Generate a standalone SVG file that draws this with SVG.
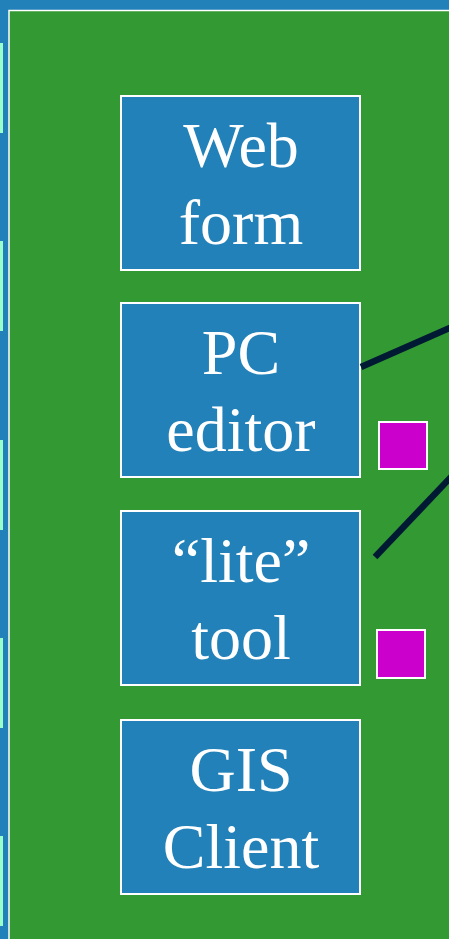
<svg xmlns="http://www.w3.org/2000/svg" width="449" height="939" viewBox="0 0 449 939">
<style>
.tab{fill:#99ffcc}
.box{fill:#2181b8;stroke:#ffffff;stroke-width:2}
.lbl{font-family:"Liberation Serif","Times New Roman",serif;font-size:64px;fill:#ffffff;text-anchor:middle}
.sq{fill:#cc00cc;stroke:#ffffff;stroke-width:2}
.conn{stroke:#001a33;stroke-width:6.5;fill:none}
</style>
<rect x="0" y="0" width="449" height="939" fill="#2181b8"/>
<g id="tabs">
<rect class="tab" x="0" y="43" width="3" height="90"/>
<rect class="tab" x="0" y="241" width="3" height="90"/>
<rect class="tab" x="0" y="440" width="3" height="90"/>
<rect class="tab" x="0" y="638" width="3" height="90"/>
<rect class="tab" x="0" y="836" width="3" height="90"/>
</g>
<rect x="9" y="10.5" width="450" height="940" fill="#339933" stroke="#ffffff" stroke-width="1.5"/>
<g id="web-form">
<rect class="box" x="121" y="96" width="239" height="174"/>
<text class="lbl" x="241" y="167">Web</text>
<text class="lbl" x="241" y="244">form</text>
</g>
<g id="pc-editor">
<rect class="box" x="121" y="303" width="239" height="174"/>
<text class="lbl" x="241" y="374">PC</text>
<text class="lbl" x="241" y="451">editor</text>
</g>
<g id="lite-tool">
<rect class="box" x="121" y="511" width="239" height="174"/>
<text class="lbl" x="241" y="582">“lite”</text>
<text class="lbl" x="241" y="659">tool</text>
</g>
<g id="gis-client">
<rect class="box" x="121" y="720" width="239" height="174"/>
<text class="lbl" x="241" y="791">GIS</text>
<text class="lbl" x="241" y="868">Client</text>
</g>
<g id="markers">
<rect class="sq" x="379" y="422" width="48" height="47"/>
<rect class="sq" x="377" y="630" width="48" height="48"/>
</g>
<g id="connectors">
<line class="conn" x1="361" y1="367" x2="452" y2="327"/>
<line class="conn" x1="375" y1="557" x2="452" y2="476"/>
</g>
</svg>
